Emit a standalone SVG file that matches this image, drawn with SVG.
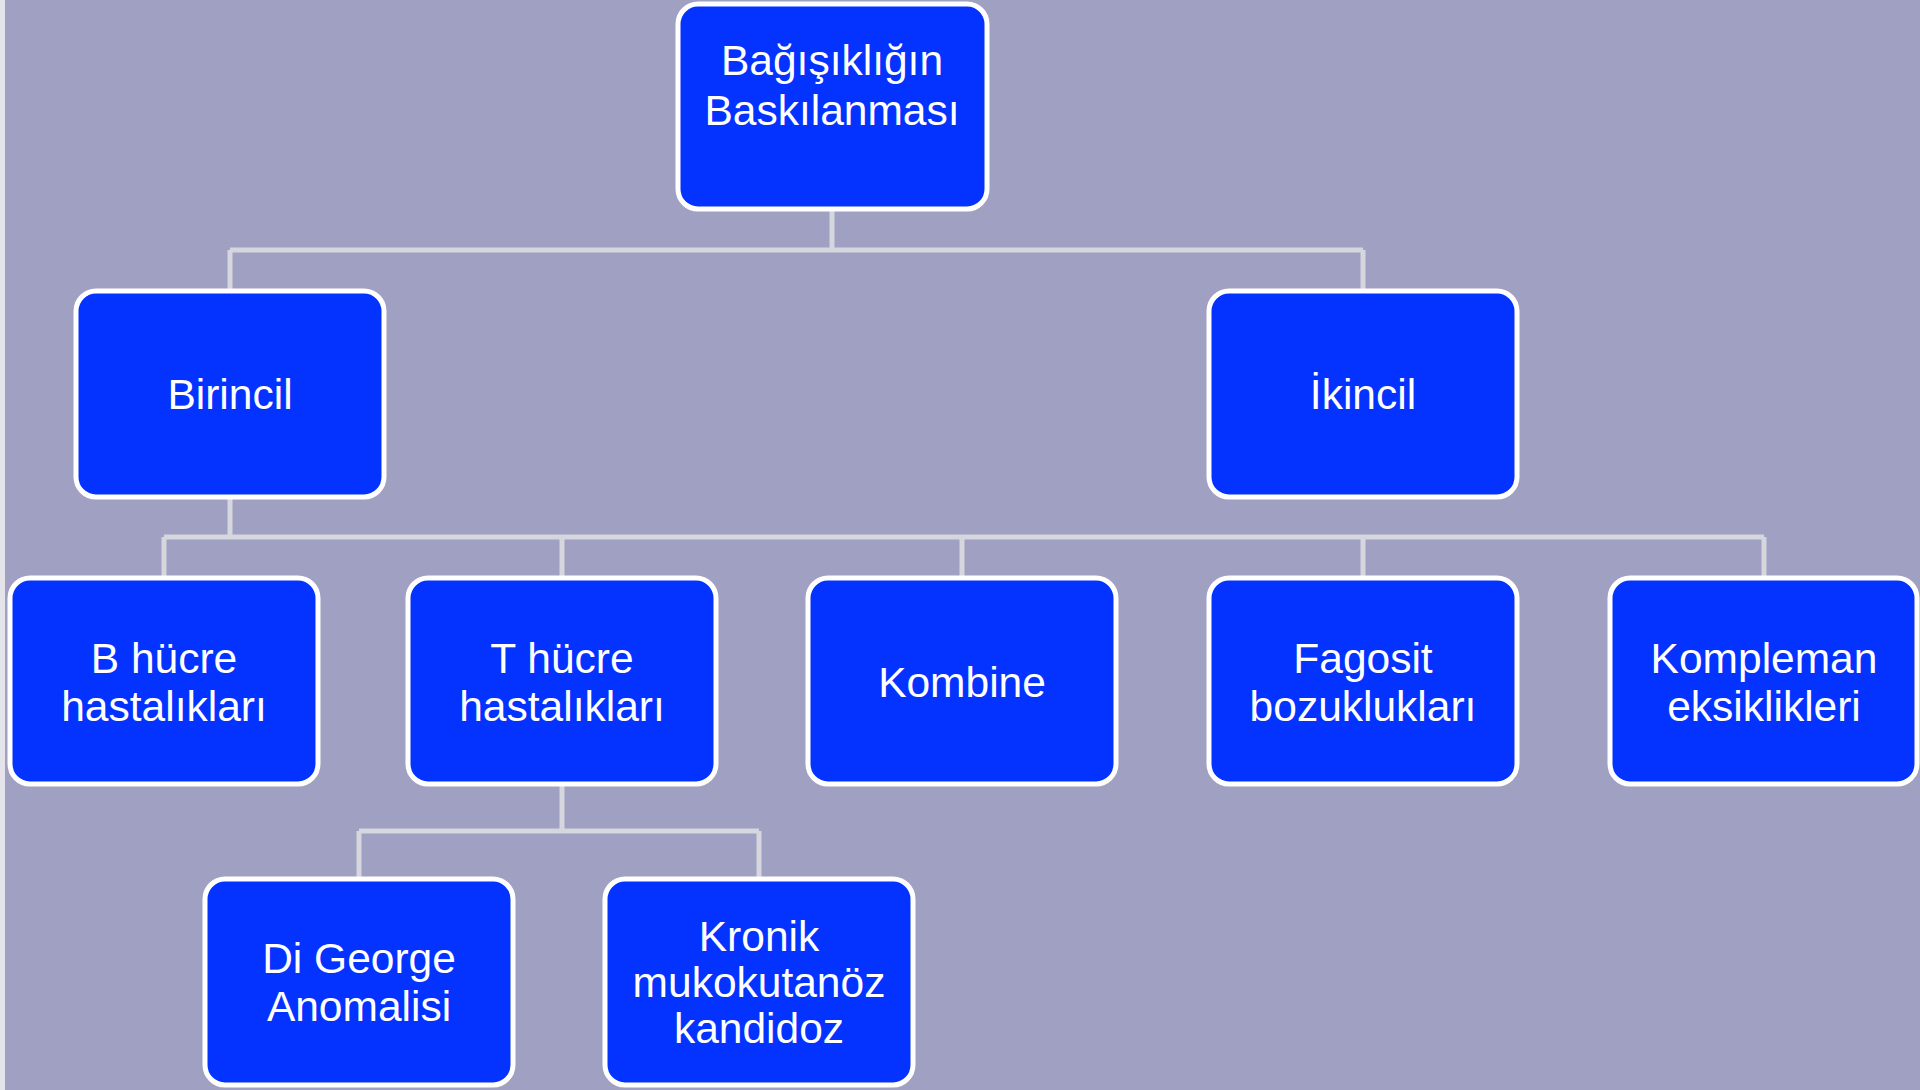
<svg xmlns="http://www.w3.org/2000/svg" width="1920" height="1090" viewBox="0 0 1920 1090">
<style>
.box{fill:#0433FF;stroke:#FFFFFF;stroke-width:5}
.lbl{font-family:"Liberation Sans",Arial,sans-serif;font-size:42.5px;fill:#FFFFFF;text-anchor:middle}
.con{fill:none;stroke:#D6D6DE;stroke-width:5}
</style>
<rect x="0" y="0" width="1920" height="1090" fill="#A0A0C2"/>
<rect x="0" y="0" width="5" height="1090" fill="#E4E4EA"/>
<g id="connectors">
<path class="con" d="M832,209 V250 M230,250 H1363 M230,250 V290 M1363,250 V290"/>
<path class="con" d="M230,497 V537 M164,537 H1764 M164,537 V578 M562,537 V578 M962,537 V578 M1363,537 V578 M1764,537 V578"/>
<path class="con" d="M562,784 V831 M359,831 H759 M359,831 V878 M759,831 V878"/>
</g>
<g id="root"><rect class="box" x="678" y="4" width="309" height="205" rx="20"/><text class="lbl" x="832" y="75">Bağışıklığın</text><text class="lbl" x="832" y="125">Baskılanması</text></g>
<g id="birincil"><rect class="box" x="76" y="291" width="308" height="206" rx="20"/><text class="lbl" x="230" y="409">Birincil</text></g>
<g id="ikincil"><rect class="box" x="1209" y="291" width="308" height="206" rx="20"/><text class="lbl" x="1363" y="409">İkincil</text></g>
<g id="bhucre"><rect class="box" x="10" y="578" width="308" height="206" rx="20"/><text class="lbl" x="164" y="673">B hücre</text><text class="lbl" x="164" y="721">hastalıkları</text></g>
<g id="thucre"><rect class="box" x="408" y="578" width="308" height="206" rx="20"/><text class="lbl" x="562" y="673">T hücre</text><text class="lbl" x="562" y="721">hastalıkları</text></g>
<g id="kombine"><rect class="box" x="808" y="578" width="308" height="206" rx="20"/><text class="lbl" x="962" y="697">Kombine</text></g>
<g id="fagosit"><rect class="box" x="1209" y="578" width="308" height="206" rx="20"/><text class="lbl" x="1363" y="673">Fagosit</text><text class="lbl" x="1363" y="721">bozuklukları</text></g>
<g id="kompleman"><rect class="box" x="1610" y="578" width="307" height="206" rx="20"/><text class="lbl" x="1764" y="673">Kompleman</text><text class="lbl" x="1764" y="721">eksiklikleri</text></g>
<g id="digeorge"><rect class="box" x="205" y="879" width="308" height="206" rx="20"/><text class="lbl" x="359" y="973">Di George</text><text class="lbl" x="359" y="1021">Anomalisi</text></g>
<g id="kronik"><rect class="box" x="605" y="879" width="308" height="206" rx="20"/><text class="lbl" x="759" y="951">Kronik</text><text class="lbl" x="759" y="997">mukokutanöz</text><text class="lbl" x="759" y="1043">kandidoz</text></g>
</svg>
